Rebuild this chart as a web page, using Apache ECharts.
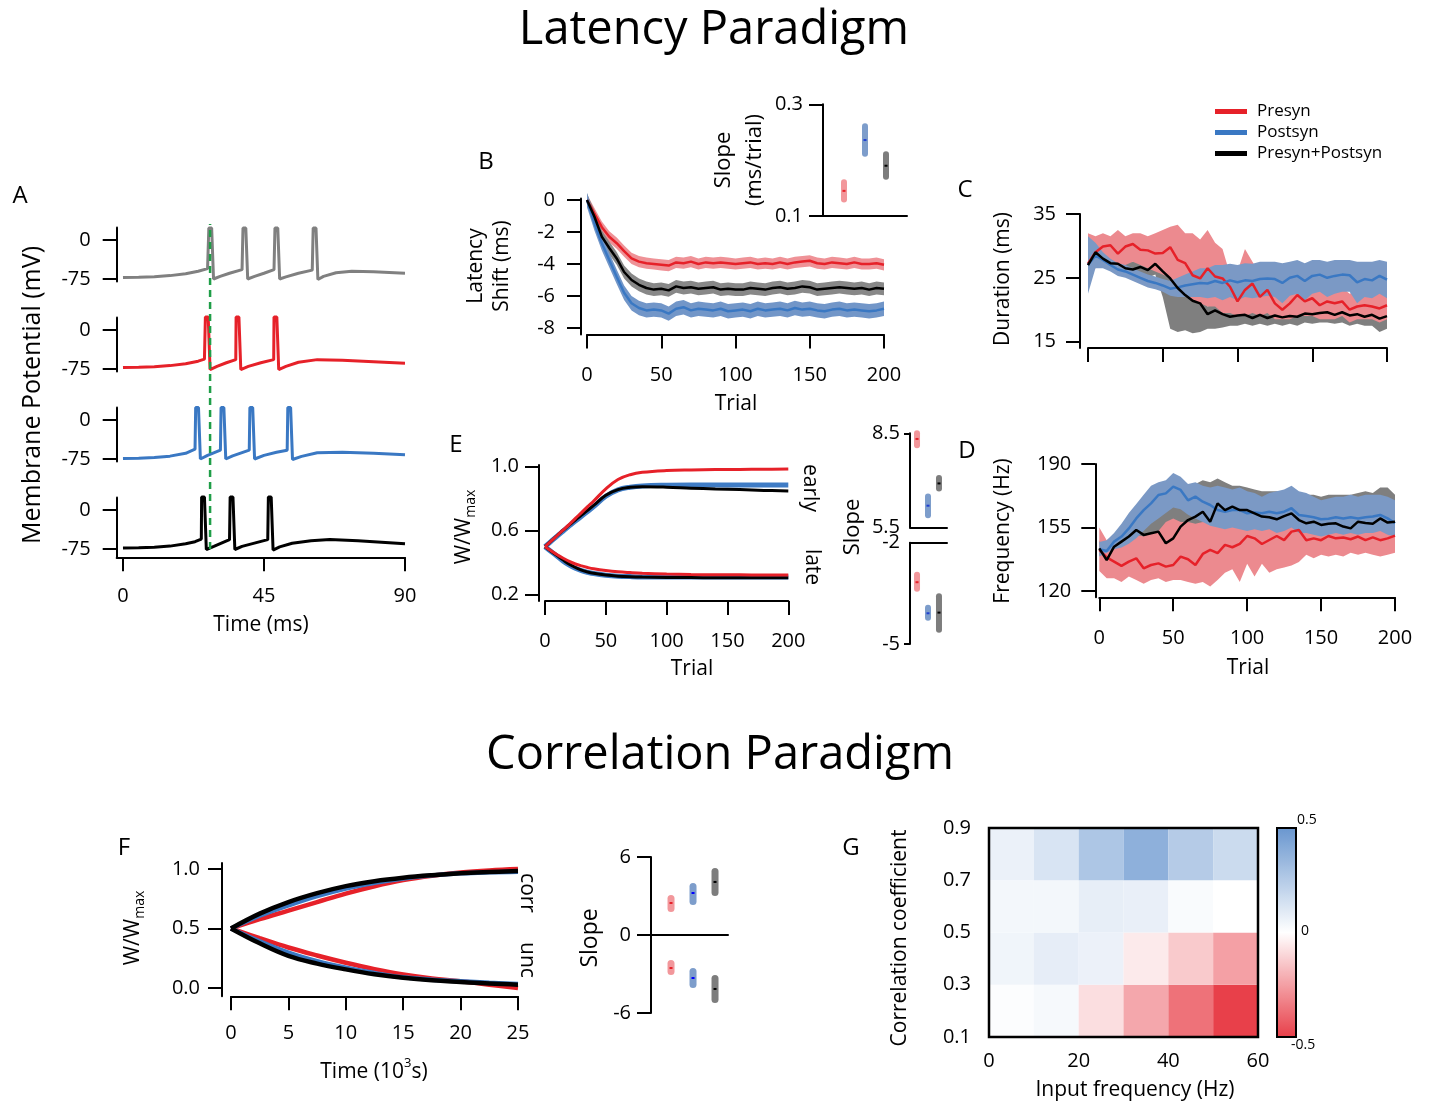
<!DOCTYPE html>
<html><head><meta charset="utf-8">
<script src="https://cdn.jsdelivr.net/npm/echarts@6/dist/echarts.min.js"></script>
<style>html,body{margin:0;padding:0;background:#fff}#c{width:1429px;height:1103px}</style>
</head><body><div id="c"></div>
<script>
const FONT = 'Open Sans';
const RED = '#e62129', BLUE = '#3a78c3', GRAY = '#808080', BLACK = '#000000';

// ---------- Panel A: membrane potential traces [time ms, mV] ----------
const aGray = [[0,-72],[5,-71.5],[10,-70.5],[15,-68.5],[20,-65],[24,-60],[27,-55],[27.4,23],[28.3,23],[28.9,-75],[31,-70],[34,-64],[38,-57],[38.3,23],[39.2,23],[39.8,-75],[42,-70],[45,-64],[48.2,-57],[48.5,23],[49.4,23],[50,-75],[52,-71],[56,-64],[60.4,-58],[60.7,23],[61.6,23],[62.2,-76],[64,-70],[68,-63],[73,-60],[80,-61],[90,-64]];
const aRed = [[0,-72],[5,-71.5],[10,-70.5],[15,-68.5],[20,-65],[24,-60],[26,-56],[26.3,25],[27.2,25],[27.8,-76],[30,-70],[33,-63],[36,-57],[36.1,25],[37,25],[37.6,-76],[40,-70],[44,-63],[48.1,-57],[48.2,25],[49.1,25],[49.7,-76],[52,-70],[56,-62],[62,-57],[70,-58],[80,-61],[90,-64]];
const aBlue = [[0,-74],[5,-73.5],[10,-72],[15,-69.5],[20,-64],[23,-56],[23.2,24],[24.1,24],[24.7,-75],[27,-68],[31.1,-58],[31.3,24],[32.2,24],[32.8,-75],[35,-69],[40.3,-58],[40.5,24],[41.4,24],[42,-75],[45,-68],[49,-62],[52.4,-58],[52.6,24],[53.5,24],[54.1,-76],[57,-70],[62,-63],[70,-62],[80,-64],[90,-67]];
const aBlack = [[0,-73],[5,-72.5],[10,-71.5],[15,-69.5],[20,-65],[23,-61],[25,-56],[25.1,25],[26,25],[26.6,-76],[29,-70],[34,-57],[34.2,25],[35.1,25],[35.7,-76],[38,-70],[46.2,-57],[46.4,25],[47.3,25],[47.9,-77],[50,-71],[54,-64],[60,-59],[66,-57],[75,-59],[90,-65]];
const aMarkerTime = 27.8;
const aTicksX = [0, 45, 90];
const aTicksY = [0, -75];

// ---------- Panels B, C, D: trials ----------
const trials5 = [0,5,10,15,20,25,30,35,40,45,50,55,60,65,70,75,80,85,90,95,100,105,110,115,120,125,130,135,140,145,150,155,160,165,170,175,180,185,190,195,200];

// B: latency shift (ms)
const bPresyn = [0,-0.85,-1.7,-2.3,-2.7,-3.2,-3.65,-3.85,-3.95,-4.0,-4.05,-4.1,-3.9,-3.95,-3.85,-4.0,-3.9,-3.95,-3.9,-3.95,-4.0,-3.95,-3.9,-4.0,-3.95,-4.0,-3.9,-4.0,-3.9,-3.85,-3.8,-3.95,-4.0,-3.9,-3.95,-4.0,-3.9,-4.0,-4.0,-3.95,-4.05];
const bPostsyn = [0,-1.45,-2.7,-3.75,-4.8,-5.8,-6.45,-6.75,-6.9,-6.85,-6.9,-7.1,-6.8,-6.7,-6.9,-6.8,-6.85,-6.9,-6.8,-6.95,-6.9,-6.85,-6.95,-6.8,-6.9,-6.85,-6.8,-6.9,-6.75,-6.85,-6.8,-6.9,-6.95,-6.85,-6.8,-6.9,-6.85,-6.9,-6.95,-6.9,-6.8];
const bBoth = [0,-1.05,-2.3,-3.0,-3.65,-4.5,-5.0,-5.3,-5.5,-5.6,-5.55,-5.65,-5.4,-5.5,-5.45,-5.55,-5.5,-5.45,-5.6,-5.55,-5.6,-5.6,-5.5,-5.55,-5.6,-5.5,-5.45,-5.55,-5.5,-5.4,-5.45,-5.6,-5.55,-5.5,-5.45,-5.5,-5.55,-5.5,-5.6,-5.5,-5.55];
const bHalfPresyn = 0.35, bHalfPostsyn = 0.45, bHalfBoth = 0.4;
const bTicksY = [0, -2, -4, -6, -8];

// slope insets: x slots
const slopeX = [1, 2, 3];
const bSlopeMean = [0.145, 0.236, 0.19];
const bSlopeLo = [0.124, 0.206, 0.165];
const bSlopeHi = [0.166, 0.266, 0.216];

// C: duration (ms)
const cPresyn = [27.2,29.0,29.9,30.1,28.8,29.9,30.3,29.4,29.3,28.8,28.9,29.8,27.8,27.3,25.4,24.9,26.5,25.2,24.9,23.6,21.3,23.1,24.1,22.0,23.1,21.0,20.0,21.0,22.3,21.3,21.8,20.7,21.3,21.0,21.3,20.0,20.5,20.7,20.5,20.2,20.7];
const cPresynHi = [32,31.5,32,31.5,32.5,31.5,32,32,31.5,32,32.5,33,33.3,32,32,31,32.5,30.5,29.5,25.5,26,29.5,27.5,25.5,24.5,24.5,24,24,24.5,24,24,23.5,24,23.5,23.5,22.5,23,23,22.5,23,22.5];
const cPresynLo = [26,26.5,27,27,26.5,27,27.5,27,26.5,26,25.5,25,23,22.5,21.5,21,20.5,20.5,19.5,19.5,19,19,19.5,19,19.5,18.5,18.5,18.5,19,19,19,18.5,18.5,18.5,19,18,18.5,18.5,18.5,18,18.5];
const cPostsyn = [27.0,28.5,27.8,27.0,26.3,26.0,25.5,25.0,24.5,24.2,23.8,23.3,23.5,23.8,24.0,24.2,24.1,24.5,24.2,24.6,24.3,24.6,24.5,24.8,24.9,24.8,24.2,25.0,25.3,24.5,25.3,25.5,25.0,25.3,25.5,25.4,24.3,24.8,24.6,25.3,24.7];
const cPostsynHi = [31.5,30.5,29,28,27.3,27,26.5,26,25.5,25.2,24.8,24.5,25,25.5,26,26.5,26.5,27,27,27.2,27,27.3,27.2,27.5,27.5,27.5,27.3,27.5,27.8,27.3,27.8,27.8,27.5,27.8,27.8,27.8,27.5,27.5,27.5,27.8,27.5];
const cPostsynLo = [22.5,26.5,26.5,26,25.3,25,24.5,24,23.5,23.2,22.8,22.2,22,22,22,22,21.8,22,21.5,22,21.5,22,21.8,22,22.2,22,21,22.2,22.5,21.5,22.5,22.8,22,22.5,22.8,22.8,21,22,21.8,22.5,21.8];
const cBoth = [27.0,29.0,28.0,27.3,27.2,26.5,26.3,26.7,26.2,27.2,26.0,24.9,23.4,22.3,21.4,21.0,19.3,19.9,19.3,18.9,19.1,19.2,18.7,19.2,18.7,19.1,18.8,19.0,18.9,19.4,19.3,19.5,19.6,19.2,19.6,19.1,19.3,18.9,19.2,18.6,19.0];
const cBothHi = [28,30,29,28.3,28.2,27.5,27.5,28,27.5,28,27.5,26,24.5,23.5,22.5,22,20.5,21,20.5,20,20,20.2,19.8,20.2,19.8,20.2,20,20,20,20.5,20.5,20.5,20.8,20.5,20.8,20.3,20.5,20.2,20.3,19.8,20.2];
const cBothLo = [26,28,27,26.3,26,25.5,25,25.3,25,25.5,22,17,16.5,16.8,16.3,16.5,17,17,17.2,17.5,17.5,17.8,17.5,17.8,17.5,17.8,17.5,17.8,17.5,18,17.8,18,18,17.8,18,17.5,17.8,17.5,17.5,16.5,17];
const cTicksY = [15, 25, 35];

// D: frequency (Hz)
const dPresyn = [142.6,138.5,136.2,133.8,136.2,138.0,132.5,134.3,135.2,133.4,134.3,138.9,137.5,134.3,140.4,142.6,140.8,145.4,144.1,146.0,150.3,149.0,145.9,148.1,150.3,148.0,152.7,153.6,148.0,149.0,148.0,150.3,149.0,149.5,148.5,150.0,148.0,149.5,148.0,149.0,150.5];
const dPresynHi = [155,148,151,150,152,151,150,152,153,158,160,158,158,157,158,158,157,158,159,158,160,158,157,158,159,158,160,161,158,158,157,158,158,158,157,158,157,158,157,158,158];
const dPresynLo = [131,127,127,125,128,126,124,126,127,125,126,126,125,124,125,122.5,126,130,132,125,135,128,135,130,132,133,134,136,140,138,140,139,140,139,141,140,141,140,139,140,141];
const dPostsyn = [143.0,142.0,147.2,150.0,154.5,160.0,164.6,168.3,172.9,173.8,177.5,175.7,170.0,172.0,169.2,167.4,164.6,163.7,164.6,164.6,162.8,163.2,162.8,163.7,162.8,163.7,165.6,161.9,161.3,160.6,159.5,159.8,160.6,160.0,160.6,160.0,160.6,161.0,161.9,160.0,157.3];
const dPostsynHi = [147,148,152,157,163,168,173,178,180,181,185,183,179,180,178,177,178,177,176,177,175,174,172,174,175,176,178,175,174,172,170,171,172,172,173,172,173,173,173,172,170];
const dPostsynLo = [139,141,143,144,146,149,153,157,160,163,166,165,162,160,158,156,155,154,155,154,153,154,153,154,152,153,155,152,152,151,150,151,152,151,152,151,152,152,153,151,150];
const dBoth = [143.5,137.0,144.4,147.2,150.0,153.6,150.9,151.8,152.7,146.3,149.0,155.5,159.1,161.0,163.7,158.2,168.3,164.6,166.5,164.6,164.6,162.8,161.0,160.6,159.5,161.3,162.8,159.1,157.3,158.2,156.4,157.0,157.3,155.5,154.5,158.2,157.5,157.0,160.0,157.7,158.2];
const dBothHi = [148,142,150,152,155,158,160,162,166,168,172,175,178,179,181,180,182,180,178,178,177,176,175,175,175,174,174,173,173,173,172,173,173,173,173,174,175,174,177,177,173];
const dBothLo = [140,133,140,143,145,147,143,144,143,141,140,145,150,151,152,150,155,155,155,154,153,152,151,151,150,151,152,150,150,150,150,151,151,150,150,151,151,151,152,151,152];
const dTicksY = [120, 155, 190];

// E: W/Wmax vs trial
const eTrials = [0,5,10,15,20,25,30,35,40,50,60,70,80,100,120,140,160,180,200];
const eEarlyPresyn = [0.5,0.535,0.57,0.605,0.64,0.677,0.713,0.75,0.785,0.862,0.92,0.95,0.965,0.976,0.98,0.982,0.983,0.984,0.985];
const eEarlyPostsyn = [0.5,0.533,0.566,0.598,0.63,0.66,0.69,0.72,0.75,0.815,0.855,0.872,0.88,0.884,0.885,0.885,0.885,0.885,0.885];
const eEarlyBoth = [0.5,0.535,0.57,0.603,0.636,0.667,0.698,0.728,0.758,0.822,0.857,0.871,0.875,0.872,0.866,0.861,0.857,0.852,0.848];
const eLatePresyn = [0.5,0.475,0.45,0.428,0.408,0.392,0.38,0.37,0.362,0.351,0.343,0.338,0.334,0.329,0.326,0.325,0.324,0.323,0.323];
const eLatePostsyn = [0.5,0.47,0.44,0.41,0.385,0.365,0.35,0.34,0.332,0.322,0.316,0.313,0.311,0.31,0.31,0.31,0.31,0.31,0.31];
const eLateBoth = [0.5,0.472,0.444,0.416,0.39,0.37,0.354,0.342,0.334,0.323,0.316,0.312,0.31,0.308,0.307,0.306,0.306,0.306,0.306];
const eTicksY = [0.2, 0.6, 1.0];
const eSlopeEarlyMean = [8.32, 6.19, 6.9], eSlopeEarlyLo = [8.02, 5.79, 6.64], eSlopeEarlyHi = [8.6, 6.58, 7.17];
const eSlopeLateMean = [-3.17, -4.09, -4.07], eSlopeLateLo = [-3.45, -4.31, -4.67], eSlopeLateHi = [-2.86, -3.84, -3.5];

// F: correlation paradigm
const fTimes = [0,2.5,5,7.5,10,12.5,15,17.5,20,22.5,25];
const fCorrPresyn = [0.5,0.578,0.65,0.722,0.793,0.855,0.906,0.943,0.97,0.988,1.0];
const fCorrPostsyn = [0.5,0.607,0.694,0.772,0.836,0.883,0.92,0.946,0.963,0.972,0.977];
const fCorrBoth = [0.5,0.625,0.722,0.797,0.856,0.897,0.926,0.947,0.963,0.974,0.983];
const fUncPresyn = [0.5,0.418,0.34,0.273,0.212,0.158,0.113,0.08,0.057,0.027,0.0];
const fUncPostsyn = [0.5,0.392,0.297,0.225,0.17,0.125,0.09,0.07,0.057,0.044,0.034];
const fUncBoth = [0.5,0.375,0.27,0.205,0.156,0.115,0.085,0.064,0.05,0.037,0.028];
const fTicksY = [0, 0.5, 1.0];
const fSlopeCorrMean = [2.46, 3.23, 4.08], fSlopeCorrLo = [1.77, 2.31, 3.0], fSlopeCorrHi = [3.08, 4.0, 5.15];
const fSlopeUncMean = [-2.54, -3.31, -4.15], fSlopeUncLo = [-3.08, -4.08, -5.23], fSlopeUncHi = [-1.92, -2.54, -3.08];

// G: heatmap (rows = correlation bins bottom->top, cols = frequency bins)
const gFreqBins = [0, 10, 20, 30, 40, 50];
const gCorrBins = [0.1, 0.3, 0.5, 0.7];
const gFreqStep = 10, gCorrStep = 0.2;
const gValues = [
  [0.01, 0.03, -0.087, -0.23, -0.37, -0.5],
  [0.05, 0.085, 0.065, -0.056, -0.14, -0.25],
  [0.04, 0.04, 0.08, 0.075, 0.02, 0.0],
  [0.067, 0.13, 0.275, 0.38, 0.25, 0.175]
];
const gTicksX = [0, 20, 40, 60];
const gTicksY = [0.1, 0.3, 0.5, 0.7, 0.9];

// ---------- layout ----------
const grids = [
  [116.7, 227.5, 288.3, 54.1],   //0 A1
  [116.7, 317.5, 288.3, 54.1],   //1 A2
  [116.7, 407.5, 288.3, 54.1],   //2 A3
  [116.7, 497.5, 288.3, 59.8],   //3 A4
  [116.7, 224, 288.3, 325],      //4 A overlay
  [587, 198.4, 297, 136],        //5 B
  [823, 104.3, 84, 111.7],       //6 B inset
  [1088, 214, 299, 134],         //7 C
  [1099.3, 464, 295.7, 133.3],   //8 D
  [545, 465.1, 243.3, 136],      //9 E
  [910, 433.3, 37, 94],          //10 E slope up
  [910, 542.7, 37, 101.3],       //11 E slope low
  [231, 863, 287, 133.3],        //12 F
  [651, 857, 77, 156],           //13 F slope
  [989, 828, 269, 209]           //14 G
].map(g => ({left: g[0], top: g[1], width: g[2], height: g[3], containLabel: false, outerBoundsMode: 'none'}));

function axis(gi, o) {
  const a = {
    type: 'value', gridIndex: gi, min: o.min, max: o.max, show: o.show !== false,
    splitLine: {show: false},
    axisLine: {show: o.line !== false, onZero: !!o.onZero, lineStyle: {color: '#000', width: 2}},
    axisTick: {show: !!o.ticks, length: o.tickLen || 14, lineStyle: {color: '#000', width: 2}},
    axisLabel: {show: !!o.labels, color: '#000', fontSize: o.fs || 20, fontFamily: FONT, margin: o.margin || 24},
    axisPointer: {show: false}
  };
  if (o.interval) a.interval = o.interval;
  if (Array.isArray(o.ticks)) a.axisTick.customValues = o.ticks;
  if (Array.isArray(o.labels)) a.axisLabel.customValues = o.labels;
  if (o.fmt) a.axisLabel.formatter = o.fmt;
  if (o.offset) a.offset = o.offset;
  if (o.position) a.position = o.position;
  return a;
}
const f1 = v => v.toFixed(1);

const xAxes = [
  axis(0, {min: -2, max: 90, show: false}),
  axis(1, {min: -2, max: 90, show: false}),
  axis(2, {min: -2, max: 90, show: false}),
  axis(3, {min: -2, max: 90, ticks: aTicksX, labels: aTicksX, margin: 29}),
  axis(4, {min: -2, max: 90, show: false}),
  axis(5, {min: 0, max: 200, interval: 50, ticks: true, labels: true, margin: 31}),
  axis(6, {min: 0, max: 4}),
  axis(7, {min: 0, max: 200, interval: 50, ticks: true}),
  axis(8, {min: 0, max: 200, interval: 50, ticks: true, labels: true, margin: 31}),
  axis(9, {min: 0, max: 200, interval: 50, ticks: true, labels: true, margin: 30}),
  axis(10, {min: 0.36, max: 3.73}),
  axis(11, {min: 0.36, max: 3.73, position: 'top'}),
  axis(12, {min: 0, max: 25, interval: 5, ticks: true, labels: true, margin: 27}),
  axis(13, {min: 0.09, max: 3.59, onZero: true}),
  axis(14, {min: 0, max: 60, line: false, labels: gTicksX, margin: 14})
];
const yAxes = [
  axis(0, {min: -80, max: 24, ticks: aTicksY, labels: aTicksY, margin: 26}),
  axis(1, {min: -80, max: 24, ticks: aTicksY, labels: aTicksY, margin: 26}),
  axis(2, {min: -80, max: 24, ticks: aTicksY, labels: aTicksY, margin: 26}),
  axis(3, {min: -91, max: 24, ticks: aTicksY, labels: aTicksY, margin: 26}),
  axis(4, {min: 0, max: 1, show: false}),
  axis(5, {min: -8.4, max: 0.1, ticks: bTicksY, labels: bTicksY, offset: 6, margin: 26}),
  axis(6, {min: 0.1, max: 0.3, ticks: [0.1, 0.3], labels: [0.1, 0.3], fmt: f1, margin: 20}),
  axis(7, {min: 14, max: 35, ticks: cTicksY, labels: cTicksY, offset: 8, margin: 24}),
  axis(8, {min: 116.5, max: 190, ticks: dTicksY, labels: dTicksY, offset: 4, margin: 24}),
  axis(9, {min: 0.16, max: 1.01, ticks: eTicksY, labels: eTicksY, fmt: f1, offset: 6, margin: 20}),
  axis(10, {min: 5.5, max: 8.5, ticks: [8.5], labels: [5.5, 8.5], margin: 10, tickLen: 6}),
  axis(11, {min: -5, max: -2, ticks: [-5], labels: [-5, -2], margin: 10, tickLen: 6}),
  axis(12, {min: -0.07, max: 1.05, ticks: fTicksY, labels: fTicksY, fmt: f1, offset: 9, margin: 22}),
  axis(13, {min: -6, max: 6, ticks: [-6, 0, 6], labels: [-6, 0, 6], margin: 20}),
  axis(14, {min: 0.1, max: 0.9, line: false, labels: gTicksY, fmt: f1, margin: 18})
];

// ---------- series ----------
const series = [];
function line(gi, pts, color, width, z, name) {
  const s = {type: 'line', xAxisIndex: gi, yAxisIndex: gi, data: pts, symbol: 'none', showSymbol: false,
    lineStyle: {color: color, width: width}, itemStyle: {color: color}, silent: true, z: z || 5, clip: false};
  if (name) s.name = name;
  return s;
}
const zip = (xs, ys) => xs.map((x, i) => [x, ys[i]]);
function band(gi, xs, lo, hi, color, z) {
  return {type: 'custom', xAxisIndex: gi, yAxisIndex: gi, silent: true, z: z || 1,
    data: xs.map((x, i) => [x, lo[i], hi[i]]), encode: {x: 0, y: [1, 2]},
    renderItem: (params, api) => {
      if (params.dataIndex !== 0) return null;
      const pts = [];
      for (let i = 0; i < xs.length; i++) pts.push(api.coord([xs[i], hi[i]]));
      for (let i = xs.length - 1; i >= 0; i--) pts.push(api.coord([xs[i], lo[i]]));
      return {type: 'polygon', shape: {points: pts}, style: {fill: color}};
    }};
}
function errBars(gi, mean, lo, hi, fills, dots, w) {
  return {type: 'custom', xAxisIndex: gi, yAxisIndex: gi, silent: true, z: 6,
    data: slopeX.map((k, i) => [k, mean[i], lo[i], hi[i]]), encode: {x: 0, y: [1, 2, 3]},
    renderItem: (params, api) => {
      const i = params.dataIndex;
      const top = api.coord([slopeX[i], hi[i]]), bot = api.coord([slopeX[i], lo[i]]), mid = api.coord([slopeX[i], mean[i]]);
      return {type: 'group', children: [
        {type: 'rect', shape: {x: top[0] - w / 2, y: top[1], width: w, height: bot[1] - top[1], r: w / 2}, style: {fill: fills[i]}},
        {type: 'rect', shape: {x: mid[0] - 1.5, y: mid[1] - 1, width: 3, height: 2}, style: {fill: dots[i]}}
      ]};
    }};
}
const slopeFills = ['#f2979b', '#7d9dcb', '#7d7d7d'];
const slopeDots = [RED, '#1f3fd0', '#000'];

// A
[[aGray, GRAY], [aRed, RED], [aBlue, BLUE], [aBlack, BLACK]].forEach((p, i) => series.push(line(i, p[0], p[1], 3)));
series.push({type: 'line', xAxisIndex: 4, yAxisIndex: 4, data: [[aMarkerTime, 0], [aMarkerTime, 1]], symbol: 'none',
  lineStyle: {color: '#1f9e48', width: 2.5, type: [7, 5]}, silent: true, z: 10});

// B
series.push(band(5, trials5, bPresyn.map(v => v - bHalfPresyn), bPresyn.map(v => v + bHalfPresyn), '#ef9297'));
series.push(band(5, trials5, bBoth.map(v => v - bHalfBoth), bBoth.map(v => v + bHalfBoth), '#888888'));
series.push(band(5, trials5, bPostsyn.map(v => v - bHalfPostsyn), bPostsyn.map(v => v + bHalfPostsyn), '#7296c8'));
series.push(line(5, zip(trials5, bPresyn), RED, 2.5, 5, 'Presyn'));
series.push(line(5, zip(trials5, bPostsyn), BLUE, 2.5, 5, 'Postsyn'));
series.push(line(5, zip(trials5, bBoth), BLACK, 2.5, 5, 'Presyn+Postsyn'));
series.push(errBars(6, bSlopeMean, bSlopeLo, bSlopeHi, slopeFills, slopeDots, 6));

// C
series.push(band(7, trials5, cBothLo, cBothHi, '#7f7f7f', 1));
series.push(band(7, trials5, cPresynLo, cPresynHi, '#ec8a8f', 2));
series.push(band(7, trials5, cPostsynLo, cPostsynHi, '#7b99c5', 3));
series.push(line(7, zip(trials5, cPresyn), RED, 2.5, 5));
series.push(line(7, zip(trials5, cPostsyn), BLUE, 2.5, 5));
series.push(line(7, zip(trials5, cBoth), BLACK, 2.5, 6));

// D
series.push(band(8, trials5, dBothLo, dBothHi, '#7f7f7f', 1));
series.push(band(8, trials5, dPresynLo, dPresynHi, '#ec8a8f', 2));
series.push(band(8, trials5, dPostsynLo, dPostsynHi, '#7b99c5', 3));
series.push(line(8, zip(trials5, dPresyn), RED, 2.5, 5));
series.push(line(8, zip(trials5, dPostsyn), BLUE, 2.5, 5));
series.push(line(8, zip(trials5, dBoth), BLACK, 2.5, 6));

// E
const eSmooth = s => Object.assign(s, {smooth: 0.4});
series.push(eSmooth(line(9, zip(eTrials, eEarlyPostsyn), '#3f7cc5', 5, 4)));
series.push(eSmooth(line(9, zip(eTrials, eLatePostsyn), '#3f7cc5', 5, 4)));
series.push(eSmooth(line(9, zip(eTrials, eEarlyBoth), BLACK, 3, 5)));
series.push(eSmooth(line(9, zip(eTrials, eLateBoth), BLACK, 3, 5)));
series.push(eSmooth(line(9, zip(eTrials, eEarlyPresyn), RED, 3, 6)));
series.push(eSmooth(line(9, zip(eTrials, eLatePresyn), RED, 3, 6)));
series.push(errBars(10, eSlopeEarlyMean, eSlopeEarlyLo, eSlopeEarlyHi, slopeFills, slopeDots, 6));
series.push(errBars(11, eSlopeLateMean, eSlopeLateLo, eSlopeLateHi, slopeFills, slopeDots, 6));

// F
[[fCorrPresyn, RED], [fUncPresyn, RED], [fCorrPostsyn, BLUE], [fUncPostsyn, BLUE], [fCorrBoth, BLACK], [fUncBoth, BLACK]]
  .forEach((p, i) => series.push(eSmooth(line(12, zip(fTimes, p[0]), p[1], 4.5, 4 + Math.floor(i / 2)))));
series.push(errBars(13, fSlopeCorrMean, fSlopeCorrLo, fSlopeCorrHi, slopeFills, ['#e62129', '#0000ff', '#000'], 7));
series.push(errBars(13, fSlopeUncMean, fSlopeUncLo, fSlopeUncHi, slopeFills, ['#e62129', '#0000ff', '#000'], 7));

// G heatmap
const gData = [];
gCorrBins.forEach((c, r) => gFreqBins.forEach((f, k) => gData.push([f, c, gValues[r][k]])));
series.push({type: 'custom', xAxisIndex: 14, yAxisIndex: 14, silent: true, z: 3, data: gData, encode: {x: 0, y: 1},
  renderItem: (params, api) => {
    const x0 = api.value(0), y0 = api.value(1);
    const p1 = api.coord([x0, y0 + gCorrStep]), p2 = api.coord([x0 + gFreqStep, y0]);
    return {type: 'rect', shape: {x: p1[0], y: p1[1], width: p2[0] - p1[0], height: p2[1] - p1[1]}, style: {fill: api.visual('color')}};
  }});
const heatIdx = series.length - 1;
const gFrame = [[gFreqBins[0], gCorrBins[0], gFreqBins[gFreqBins.length - 1] + gFreqStep, gCorrBins[gCorrBins.length - 1] + gCorrStep]];
series.push({type: 'custom', xAxisIndex: 14, yAxisIndex: 14, silent: true, z: 8, data: gFrame, encode: {x: [0, 2], y: [1, 3]},
  renderItem: (params, api) => {
    const a = api.coord([api.value(0), api.value(3)]), b = api.coord([api.value(2), api.value(1)]);
    return {type: 'rect', shape: {x: a[0], y: a[1], width: b[0] - a[0], height: b[1] - a[1]}, style: {fill: 'none', stroke: '#000', lineWidth: 2.5}};
  }});

// ---------- texts ----------
function T(x, y, text, fs, rot, extra) {
  const st = Object.assign({text: text, fontSize: fs, fontFamily: FONT, fill: '#000',
    align: 'center', verticalAlign: 'middle', textAlign: 'center', textVerticalAlign: 'middle'}, extra || {});
  return {type: 'text', x: x, y: y, rotation: (rot || 0) * Math.PI / 180, style: st, silent: true, z: 100};
}
const wRich = {s: {fontSize: 14, lineHeight: 14, verticalAlign: 'bottom', fontFamily: FONT}};
const CB = {left: 1277, top: 828, w: 19, h: 209};
const texts = [
  T(714, 31, 'Latency Paradigm', 47),
  T(720, 756, 'Correlation Paradigm', 47),
  T(20, 196, 'A', 24), T(486, 162, 'B', 24), T(965, 190, 'C', 24), T(967, 451, 'D', 24),
  T(456, 445, 'E', 24), T(124, 848, 'F', 24), T(851, 848, 'G', 24),
  T(33, 395, 'Membrane Potential (mV)', 25, 90),
  T(261, 625, 'Time (ms)', 21),
  T(489, 266, 'Latency\nShift (ms)', 21, 90, {lineHeight: 26}),
  T(736, 404, 'Trial', 21),
  T(739, 160, 'Slope\n(ms/trial)', 22, 90, {lineHeight: 31}),
  T(1003, 279, 'Duration (ms)', 21, 90),
  T(1003, 531, 'Frequency (Hz)', 21, 90),
  T(1248, 668, 'Trial', 21),
  T(464, 527, 'W/W{s|max}', 21, 90, {lineHeight: 28, rich: wRich}),
  T(692, 669, 'Trial', 21),
  T(810, 488, 'early', 21, -90),
  T(812, 567, 'late', 21, -90),
  T(853, 527, 'Slope', 22, 90),
  T(133, 928, 'W/W{s|max}', 21, 90, {lineHeight: 28, rich: wRich}),
  T(374, 1072, 'Time (10{p|3}s)', 21, 0, {rich: {p: {fontSize: 13, lineHeight: 13, verticalAlign: 'top', fontFamily: FONT}}, lineHeight: 30}),
  T(527, 893, 'corr', 21, -90),
  T(527, 960, 'unc', 21, -90),
  T(590, 938, 'Slope', 23, 90),
  T(900, 938, 'Correlation coefficient', 21, 90),
  T(1135, 1090, 'Input frequency (Hz)', 21),
  T(1297, 820, '0.5', 14, 0, {align: 'left', textAlign: 'left'}),
  T(1301, 931, '0', 14, 0, {align: 'left', textAlign: 'left'}),
  T(1291, 1045, '-0.5', 14, 0, {align: 'left', textAlign: 'left'}),
  {type: 'rect', shape: {x: CB.left, y: CB.top, width: CB.w, height: CB.h}, style: {fill: 'none', stroke: '#000', lineWidth: 2}, silent: true, z: 101}
];

const option = {
  animation: false,
  backgroundColor: '#ffffff',
  grid: grids,
  xAxis: xAxes,
  yAxis: yAxes,
  series: series,
  legend: {
    data: [
      {name: 'Presyn', itemStyle: {color: RED}},
      {name: 'Postsyn', itemStyle: {color: BLUE}},
      {name: 'Presyn+Postsyn', itemStyle: {color: BLACK}}
    ],
    orient: 'vertical', left: 1215, top: 103, icon: 'rect', itemWidth: 32, itemHeight: 5, itemGap: 4,
    selectedMode: false, padding: 0,
    textStyle: {fontFamily: FONT, fontSize: 17, color: '#000', lineHeight: 17, padding: [0, 0, 0, 5]}
  },
  visualMap: {
    type: 'continuous', seriesIndex: heatIdx, dimension: 2, min: -0.5, max: 0.5,
    calculable: false, left: CB.left, top: CB.top, itemWidth: CB.w, itemHeight: CB.h, padding: 0,
    text: null, showLabel: false, hoverLink: false,
    inRange: {color: ['#e8404a', '#ffffff', '#6a97cf']}
  },
  graphic: {elements: texts}
};
const chart = echarts.init(document.getElementById('c'), null, {renderer: 'canvas'});
chart.setOption(option);
</script></body></html>
